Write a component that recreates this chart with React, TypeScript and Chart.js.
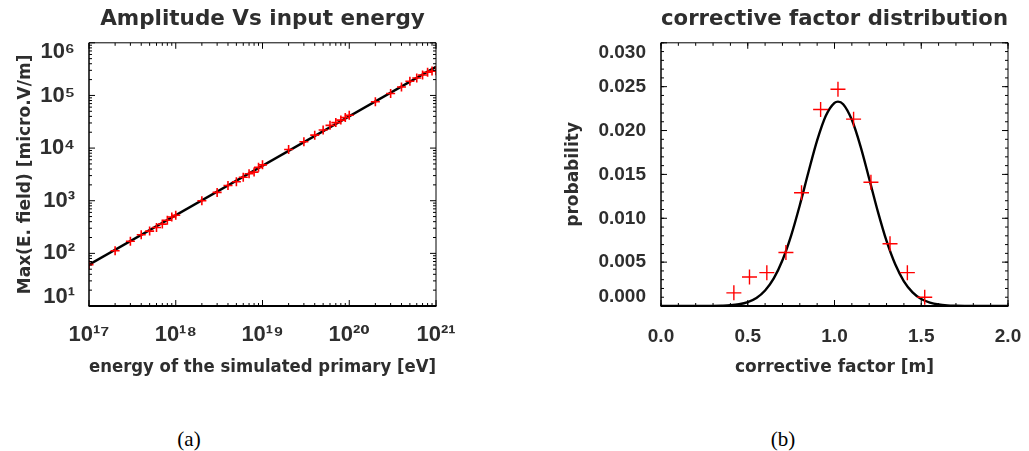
import React, { useEffect, useRef } from 'react';
import { Chart, registerables } from 'chart.js';

Chart.register(...registerables);

// ---------- Panel (a): Amplitude vs input energy ----------
const energyEv = [
  1e17, 2e17, 3e17, 4e17, 5e17, 6e17, 7e17, 8e17, 9e17,
  1e18, 2e18, 3e18, 4e18, 5e18, 6e18, 7e18, 8e18, 9e18,
  1e19, 2e19, 3e19, 4e19, 5e19, 6e19, 7e19, 8e19, 9e19,
  1e20, 2e20, 3e20, 4e20, 5e20, 6e20, 7e20, 8e20, 9e20,
  1e21,
];
const amplitude = [
  61, 112, 170, 225, 265, 310, 360, 425, 490,
  530, 1000, 1440, 1940, 2300, 2800, 3250, 3500, 4300,
  4800, 9400, 13200, 17600, 22000, 27000, 30500, 34000, 38000,
  42000, 76000, 109000, 145000, 186000, 215000, 245000, 275000, 290000,
  295000,
];
const fitEnergy = [1e17, 1e21];
const fitAmplitude = [61, 350000];
const energyTicks = [1e17, 1e18, 1e19, 1e20, 1e21];
const energyTickLabels = ['10¹⁷', '10¹⁸', '10¹⁹', '10²⁰', '10²¹'];
const amplitudeTicks = [1e1, 1e2, 1e3, 1e4, 1e5, 1e6];
const amplitudeTickLabels = ['10¹', '10²', '10³', '10⁴', '10⁵', '10⁶'];

// ---------- Panel (b): corrective factor distribution ----------
const factorX = [0.42, 0.51, 0.61, 0.72, 0.81, 0.92, 1.02, 1.11, 1.21, 1.32, 1.42, 1.52];
const factorProb = [0.0015, 0.0033, 0.0038, 0.0061, 0.0129, 0.0224, 0.0247, 0.0213, 0.0141, 0.0071, 0.0038, 0.001];
const gaussX = [
  0, 0.05, 0.1, 0.15, 0.2, 0.25, 0.3, 0.35, 0.4, 0.45, 0.5, 0.55, 0.6, 0.65, 0.7, 0.75,
  0.8, 0.85, 0.9, 0.95, 1.0, 1.02, 1.05, 1.1, 1.15, 1.2, 1.25, 1.3, 1.35, 1.4, 1.45, 1.5,
  1.55, 1.6, 1.65, 1.7, 1.75, 1.8, 1.85, 1.9, 1.95, 2.0,
];
const gaussY = [
  0, 0, 0, 0, 0, 0.000004, 0.000012, 0.000033, 0.00008, 0.0002, 0.00045, 0.00092, 0.00177, 0.00315, 0.00522, 0.00803,
  0.01149, 0.01528, 0.01888, 0.02169, 0.02316, 0.0233, 0.023, 0.02122, 0.0182, 0.01451, 0.01076, 0.00741, 0.00475, 0.00282, 0.00156, 0.0008,
  0.00039, 0.00017, 0.00007, 0.00003, 0.00001, 0, 0, 0, 0, 0,
];
const factorTicks = [0, 0.5, 1.0, 1.5, 2.0];
const factorTickLabels = ['0.0', '0.5', '1.0', '1.5', '2.0'];
const probTicks = [0, 0.005, 0.01, 0.015, 0.02, 0.025, 0.03];
const probTickLabels = ['0.000', '0.005', '0.010', '0.015', '0.020', '0.025', '0.030'];

// ---------- styling ----------
const TEXT = '#2e2e2e';
const tickFont = { family: "'Liberation Sans', 'DejaVu Sans', sans-serif", size: 19, weight: 'bold' as const, lineHeight: 1.0 };
const logTickFont = { family: "'Liberation Sans', 'DejaVu Sans', sans-serif", size: 22, weight: 'bold' as const, lineHeight: 0.8 };
const titleFont = { family: "'DejaVu Sans', sans-serif", size: 21.5, weight: 'bold' as const, lineHeight: 1.2 };
const axisTitleFont = { family: "'DejaVu Sans', sans-serif", size: 17, weight: 'bold' as const, lineHeight: 1.2 };

function logMinor(min: number, max: number): number[] {
  const out: number[] = [];
  for (let d = Math.round(Math.log10(min)); d < Math.round(Math.log10(max)); d++) {
    for (let k = 2; k <= 9; k++) out.push(k * Math.pow(10, d));
  }
  return out;
}
function linMinor(min: number, max: number, step: number): number[] {
  const out: number[] = [];
  const n = Math.round((max - min) / step);
  for (let i = 0; i <= n; i++) out.push(min + i * step);
  return out;
}

const framePlugin = {
  id: 'frameTicks',
  afterDatasetsDraw(chart: any, _args: any, opts: any) {
    const { ctx, chartArea } = chart;
    const { left, right, top, bottom } = chartArea;
    const xs = chart.scales.x;
    const ys = chart.scales.y;
    ctx.save();
    ctx.strokeStyle = '#000';
    ctx.lineWidth = 1;
    const seg = (x1: number, y1: number, x2: number, y2: number) => {
      ctx.beginPath();
      ctx.moveTo(x1, y1);
      ctx.lineTo(x2, y2);
      ctx.stroke();
    };
    const xt = (v: number, len: number) => {
      const p = xs.getPixelForValue(v);
      seg(p, bottom, p, bottom - len);
      seg(p, top, p, top + len);
    };
    const yt = (v: number, len: number) => {
      const p = ys.getPixelForValue(v);
      seg(left, p, left + len, p);
      seg(right, p, right - len, p);
    };
    (opts.xMinor || []).forEach((v: number) => xt(v, 3));
    (opts.xMajor || []).forEach((v: number) => xt(v, 6));
    (opts.yMinor || []).forEach((v: number) => yt(v, 3));
    (opts.yMajor || []).forEach((v: number) => yt(v, 6));
    // frame
    ctx.lineWidth = 1;
    seg(left, top, right, top);
    seg(right, top, right, bottom);
    ctx.lineWidth = 1.5;
    seg(left, top, left, bottom);
    ctx.lineWidth = 2;
    seg(left - 0.5, bottom, right + 0.5, bottom);
    ctx.restore();
  },
};

function matchLabel(values: number[], labels: string[], v: number, log: boolean): string {
  for (let i = 0; i < values.length; i++) {
    const a = log ? Math.log10(values[i]) : values[i];
    const b = log ? Math.log10(v) : v;
    if (Math.abs(a - b) < 1e-6) return labels[i];
  }
  return '';
}

function yLabel(values: number[], labels: string[], v: number, log: boolean): string | string[] {
  const s = matchLabel(values, labels, v, log);
  const isFirst = log ? Math.abs(Math.log10(v) - Math.log10(values[0])) < 1e-6 : Math.abs(v - values[0]) < 1e-9;
  const last = values[values.length - 1];
  const isLast = log ? Math.abs(Math.log10(v) - Math.log10(last)) < 1e-6 : Math.abs(v - last) < 1e-9;
  if (isFirst) return [s, ''];
  if (isLast) return ['', s];
  return s;
}

function makeAmplitudeConfig(): any {
  return {
    type: 'scatter',
    data: {
      datasets: [
        {
          data: energyEv.map((x, i) => ({ x, y: amplitude[i] })),
          showLine: false,
          pointStyle: 'cross',
          pointRadius: 4.5,
          pointBorderWidth: 1.6,
          borderColor: '#ff0000',
          backgroundColor: '#ff0000',
          clip: 0,
        },
        {
          data: fitEnergy.map((x, i) => ({ x, y: fitAmplitude[i] })),
          showLine: true,
          pointRadius: 0,
          borderColor: '#000',
          borderWidth: 2.4,
          clip: 0,
        },
      ],
    },
    options: {
      responsive: false,
      animation: false,
      layout: { padding: { left: 0, right: 79, top: 0, bottom: 0 } },
      plugins: {
        legend: { display: false },
        tooltip: { enabled: false },
        title: {
          display: true,
          text: 'Amplitude Vs input energy',
          fullSize: false,
          color: TEXT,
          font: titleFont,
          padding: { top: 7, bottom: 10 },
        },
        frameTicks: {
          xMajor: energyTicks,
          xMinor: logMinor(1e17, 1e21),
          yMajor: amplitudeTicks,
          yMinor: logMinor(1e1, 1e6),
        },
      },
      scales: {
        x: {
          type: 'logarithmic',
          min: 1e17,
          max: 1e21,
          grid: { display: false },
          border: { display: false },
          afterBuildTicks: (s: any) => { s.ticks = energyTicks.map((v) => ({ value: v })); },
          afterFit: (s: any) => { s.height = 84; s.paddingLeft = 0; s.paddingRight = 0; },
          ticks: {
            autoSkip: false,
            maxRotation: 0,
            minRotation: 0,
            padding: 12,
            color: TEXT,
            font: logTickFont,
            callback: (v: any) => matchLabel(energyTicks, energyTickLabels, Number(v), true),
          },
          title: {
            display: true,
            text: 'energy of the simulated primary [eV]',
            color: TEXT,
            font: axisTitleFont,
            padding: { top: 0, bottom: 12.3 },
          },
        },
        y: {
          type: 'logarithmic',
          min: 1e1,
          max: 1e6,
          grid: { display: false },
          border: { display: false },
          afterBuildTicks: (s: any) => { s.ticks = amplitudeTicks.map((v) => ({ value: v })); },
          afterFit: (s: any) => { s.width = 89; s.paddingTop = 0; s.paddingBottom = 0; },
          ticks: {
            autoSkip: false,
            padding: 6,
            color: TEXT,
            font: logTickFont,
            callback: (v: any) => yLabel(amplitudeTicks, amplitudeTickLabels, Number(v), true),
          },
          title: {
            display: true,
            text: 'Max(E. field) [micro.V/m]',
            color: TEXT,
            font: axisTitleFont,
            padding: { top: 15.3, bottom: 0 },
          },
        },
      },
    },
    plugins: [framePlugin],
  };
}

function makeFactorConfig(): any {
  return {
    type: 'scatter',
    data: {
      datasets: [
        {
          data: factorX.map((x, i) => ({ x, y: factorProb[i] })),
          showLine: false,
          pointStyle: 'cross',
          pointRadius: 7.5,
          pointBorderWidth: 1.4,
          borderColor: '#ff0000',
          backgroundColor: '#ff0000',
          clip: 0,
        },
        {
          data: gaussX.map((x, i) => ({ x, y: gaussY[i] })),
          showLine: true,
          pointRadius: 0,
          borderColor: '#000',
          borderWidth: 2.4,
          cubicInterpolationMode: 'monotone',
          clip: 0,
        },
      ],
    },
    options: {
      responsive: false,
      animation: false,
      layout: { padding: { left: 0, right: 21, top: 0, bottom: 0 } },
      plugins: {
        legend: { display: false },
        tooltip: { enabled: false },
        title: {
          display: true,
          text: 'corrective factor distribution',
          fullSize: false,
          color: TEXT,
          font: titleFont,
          padding: { top: 7, bottom: 10 },
        },
        frameTicks: {
          xMajor: factorTicks,
          xMinor: linMinor(0, 2, 0.1),
          yMajor: probTicks,
          yMinor: linMinor(0, 0.03, 0.001),
        },
      },
      scales: {
        x: {
          type: 'linear',
          min: 0,
          max: 2,
          grid: { display: false },
          border: { display: false },
          afterBuildTicks: (s: any) => { s.ticks = factorTicks.map((v) => ({ value: v })); },
          afterFit: (s: any) => { s.height = 84; s.paddingLeft = 0; s.paddingRight = 0; },
          ticks: {
            autoSkip: false,
            maxRotation: 0,
            minRotation: 0,
            padding: 13,
            color: TEXT,
            font: tickFont,
            callback: (v: any) => matchLabel(factorTicks, factorTickLabels, Number(v), false),
          },
          title: {
            display: true,
            text: 'corrective factor [m]',
            color: TEXT,
            font: axisTitleFont,
            padding: { top: 0, bottom: 12.3 },
          },
        },
        y: {
          type: 'linear',
          min: 0,
          max: 0.03,
          grid: { display: false },
          border: { display: false },
          afterBuildTicks: (s: any) => { s.ticks = probTicks.map((v) => ({ value: v })); },
          afterFit: (s: any) => { s.width = 141; s.paddingTop = 0; s.paddingBottom = 0; },
          ticks: {
            autoSkip: false,
            padding: 7,
            color: TEXT,
            font: tickFont,
            callback: (v: any) => yLabel(probTicks, probTickLabels, Number(v), false),
          },
          title: {
            display: true,
            text: 'probability',
            color: TEXT,
            font: axisTitleFont,
            padding: { top: 43.1, bottom: 0 },
          },
        },
      },
    },
    plugins: [framePlugin],
  };
}

function ChartPanel(props: { make: () => any; left: number; width: number; height: number }) {
  const ref = useRef<HTMLCanvasElement | null>(null);
  useEffect(() => {
    if (!ref.current) return;
    const chart = new Chart(ref.current, props.make());
    return () => chart.destroy();
  }, []);
  return (
    <canvas
      ref={ref}
      width={props.width}
      height={props.height}
      style={{ position: 'absolute', left: props.left, top: 0, width: props.width, height: props.height }}
    />
  );
}

const captionStyle: React.CSSProperties = {
  position: 'absolute',
  top: 428,
  fontFamily: "'Liberation Serif', 'DejaVu Serif', serif",
  fontSize: 21,
  lineHeight: '22px',
  color: '#000',
  transform: 'translateX(-50%)',
  whiteSpace: 'nowrap',
};

export default function App() {
  return (
    <div style={{ position: 'fixed', left: 0, top: 0, width: 1029, height: 451, background: '#fff', overflow: 'hidden' }}>
      <ChartPanel make={makeAmplitudeConfig} left={0} width={515} height={390} />
      <ChartPanel make={makeFactorConfig} left={520} width={509} height={390} />
      <div style={{ ...captionStyle, left: 189 }}>(a)</div>
      <div style={{ ...captionStyle, left: 783 }}>(b)</div>
    </div>
  );
}
